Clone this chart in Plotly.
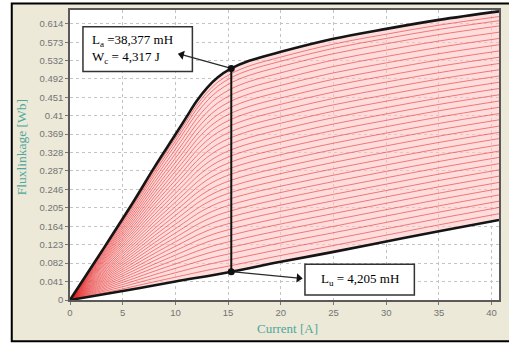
import numpy as np
import plotly.graph_objects as go

# ---- data ----
current_aligned = [0, 3, 6, 8, 10, 11, 12, 13, 14, 15.3, 17, 20, 25, 30, 35, 40.7]
flux_aligned = [0, 0.108, 0.218, 0.295, 0.368, 0.405, 0.442, 0.472, 0.495, 0.515,
                0.532, 0.552, 0.581, 0.603, 0.623, 0.642]
current_unaligned = [0, 5, 10, 15.3, 20, 25, 30, 35, 40.7]
flux_unaligned = [0, 0.020, 0.041, 0.063, 0.085, 0.107, 0.130, 0.153, 0.178]
# intermediate rotor positions (fraction between unaligned and aligned)
position_weights = [0.03, 0.06, 0.09, 0.12, 0.15, 0.18, 0.21, 0.24, 0.27, 0.30, 0.33,
                    0.36, 0.39, 0.42, 0.45, 0.48, 0.51, 0.54, 0.57, 0.60, 0.63, 0.66,
                    0.69, 0.72, 0.75, 0.78, 0.81, 0.84, 0.87, 0.90, 0.93, 0.955, 0.975]
op_current = 15.3
# arrow tips (current, flux) pointing to the two label boxes
arrow_tip_aligned = (10.6, 0.5455)
arrow_tip_unaligned = (21.7, 0.0486)
# label boxes in data coordinates: (x0, x1, y0, y1)
box_aligned = (1.23, 11.61, 0.508, 0.6075)
box_unaligned = (22.29, 32.67, 0.011, 0.0795)
x_tickvals = [0, 5, 10, 15, 20, 25, 30, 35, 40]
y_tickvals = [0, 0.041, 0.082, 0.123, 0.164, 0.205, 0.246, 0.287, 0.328, 0.369, 0.41,
              0.451, 0.492, 0.532, 0.573, 0.614]
y_ticktext = ["0", "0.041", "0.082", "0.123", "0.164", "0.205", "0.246", "0.287", "0.328",
              "0.369", "0.41", "0.451", "0.492", "0.532", "0.573", "0.614"]
label_aligned = "L<sub>a</sub> =38,377 mH<br>W<sub>c</sub> = 4,317 J"
label_unaligned = "L<sub>u</sub> = 4,205 mH"
x_title = "Current [A]"
y_title = "Fluxlinkage [Wb]"

# ---- figure ----
grid_I = sorted(set(current_aligned) | set(current_unaligned))
up = np.interp(grid_I, current_aligned, flux_aligned)
lo = np.interp(grid_I, current_unaligned, flux_unaligned)

fig = go.Figure()
fig.add_trace(go.Scatter(x=grid_I, y=lo, mode="lines", line=dict(width=0, shape="spline"),
                         hoverinfo="skip", showlegend=False))
fig.add_trace(go.Scatter(x=grid_I, y=up, mode="lines", line=dict(width=0, shape="spline"),
                         fill="tonexty", fillcolor="rgba(255,198,198,0.6)",
                         hoverinfo="skip", showlegend=False))
for w in position_weights:
    fig.add_trace(go.Scatter(x=grid_I, y=w * up + (1 - w) * lo, mode="lines",
                             line=dict(color="rgba(225,35,35,0.55)", width=1, shape="spline"),
                             hoverinfo="skip", showlegend=False))
fig.add_trace(go.Scatter(x=current_aligned, y=flux_aligned, mode="lines",
                         line=dict(color="#151515", width=2.6, shape="spline"), showlegend=False))
fig.add_trace(go.Scatter(x=current_unaligned, y=flux_unaligned, mode="lines",
                         line=dict(color="#151515", width=2.6, shape="spline"), showlegend=False))
pa = float(np.interp(op_current, current_aligned, flux_aligned))
pu = float(np.interp(op_current, current_unaligned, flux_unaligned))

# arrows from the operating points to the label boxes
for start, tip, sym, ang in [(pa, arrow_tip_aligned, "triangle-left", 14),
                             (pu, arrow_tip_unaligned, "triangle-right", 5)]:
    fig.add_trace(go.Scatter(x=[op_current, tip[0]], y=[start, tip[1]],
                             mode="lines", line=dict(color="#2a2a2a", width=1.3),
                             hoverinfo="skip", showlegend=False))
    fig.add_trace(go.Scatter(x=[tip[0]], y=[tip[1]], mode="markers",
                             marker=dict(symbol=sym, angle=ang, size=8, color="#111111"),
                             hoverinfo="skip", showlegend=False))

fig.add_trace(go.Scatter(x=[op_current, op_current], y=[pu, pa], mode="lines+markers",
                         line=dict(color="#111111", width=2),
                         marker=dict(color="#111111", size=7), showlegend=False))

serif = "Liberation Serif, Times New Roman, serif"
teal = "#4fa79b"
fig.add_annotation(x=box_aligned[0] + 0.7, y=(box_aligned[2] + box_aligned[3]) / 2,
                   text=label_aligned, showarrow=False, align="left",
                   xanchor="left", yanchor="middle",
                   font=dict(family=serif, size=13, color="black"))
fig.add_annotation(x=(box_unaligned[0] + box_unaligned[1]) / 2,
                   y=(box_unaligned[2] + box_unaligned[3]) / 2,
                   text=label_unaligned, showarrow=False, align="center",
                   xanchor="center", yanchor="middle",
                   font=dict(family=serif, size=13, color="black"))
fig.add_annotation(xref="paper", yref="paper", x=(289 - 70) / 431, y=(300 - 329) / 292,
                   text=x_title, showarrow=False, xanchor="center", yanchor="middle",
                   font=dict(family=serif, size=13, color=teal))
fig.add_annotation(xref="paper", yref="paper", x=(21 - 70) / 431, y=(300 - 146) / 292,
                   text=y_title, showarrow=False, textangle=-90, xanchor="center",
                   yanchor="middle", font=dict(family=serif, size=13.5, color=teal))

def px_x(p):
    return (p - 70) / 431

def px_y(p):
    return (300 - p) / 292

shapes = [
    dict(type="rect", xref="paper", yref="paper", x0=-0.3, x1=px_x(10.5), y0=-0.3, y1=1.2,
         fillcolor="white", line=dict(width=0), layer="below"),
    dict(type="rect", xref="paper", yref="paper", x0=-0.3, x1=1.2, y0=px_y(0.6), y1=1.2,
         fillcolor="white", line=dict(width=0), layer="below"),
    dict(type="rect", xref="paper", yref="paper", x0=-0.3, x1=1.2, y0=-0.3, y1=px_y(342.4),
         fillcolor="white", line=dict(width=0), layer="below"),
    dict(type="rect", xref="paper", yref="paper", x0=px_x(11.5), x1=px_x(530), y0=px_y(341.5),
         y1=px_y(1.5), line=dict(color="black", width=2), fillcolor="rgba(0,0,0,0)",
         layer="below"),
]
for b in (box_aligned, box_unaligned):
    shapes.append(dict(type="rect", xref="x", yref="y", x0=b[0], x1=b[1], y0=b[2], y1=b[3],
                       fillcolor="white", line=dict(color="#333333", width=1.5),
                       layer="between"))

tickfont = dict(family="Liberation Sans, Arial, sans-serif", size=9.5, color="#737373")
fig.update_layout(
    width=509, height=347, margin=dict(l=70, r=8, t=8, b=47),
    paper_bgcolor="#ECE9D8", plot_bgcolor="white", shapes=shapes, showlegend=False,
    xaxis=dict(range=[0, 40.7], tickvals=x_tickvals, showgrid=True, gridcolor="#c4c4c4",
               griddash="dot", gridwidth=1, showline=True, mirror=True, linecolor="#5a5a5a",
               linewidth=1.5, ticks="outside", ticklen=3, tickcolor="#777777",
               tickfont=tickfont, zeroline=False),
    yaxis=dict(range=[0, 0.645], tickvals=y_tickvals, ticktext=y_ticktext, showgrid=True,
               gridcolor="#c4c4c4", griddash="dot", gridwidth=1, showline=True, mirror=True,
               linecolor="#5a5a5a", linewidth=1.5, ticks="outside", ticklen=3,
               tickcolor="#777777", tickfont=tickfont, zeroline=False),
)
fig.write_html("out.html")
